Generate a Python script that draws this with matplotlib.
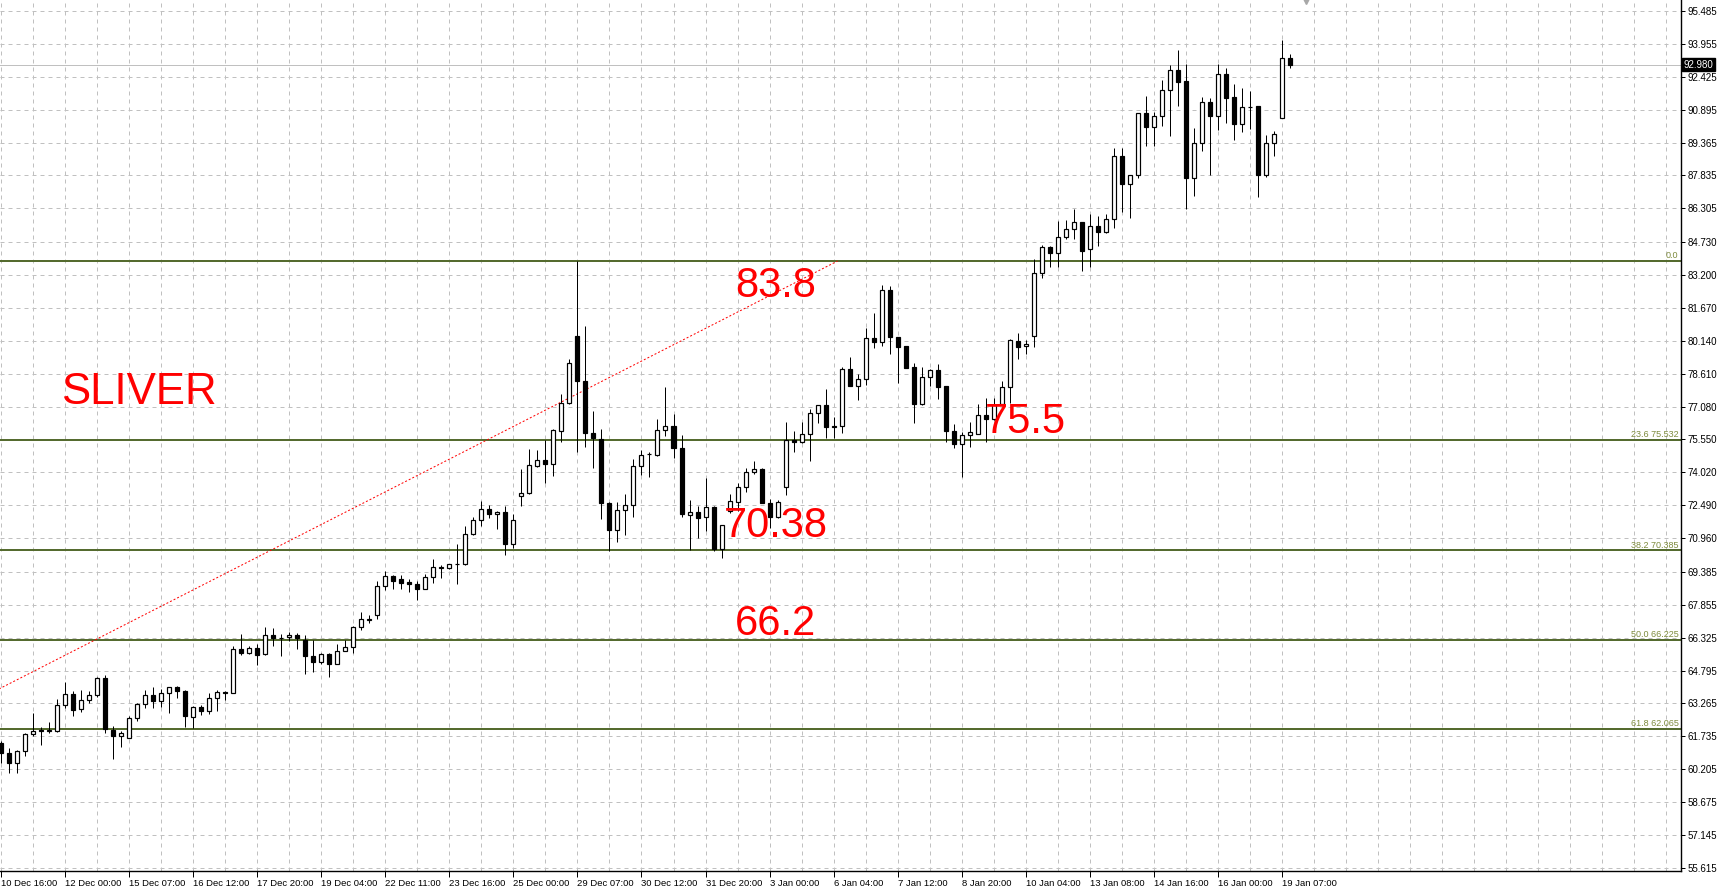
import numpy as np
import matplotlib
matplotlib.use("Agg")
import matplotlib.pyplot as plt
import matplotlib.transforms as mtransforms

# H4 candles, left to right
opens = [61.42, 60.95, 60.49, 61.05, 61.84, 62.01, 61.98, 61.96, 63.19, 63.70,
         63.00, 63.42, 63.64, 64.44, 62.02, 61.77, 61.65, 62.58, 63.23, 63.65,
         63.37, 63.75, 64.02, 63.85, 62.63, 63.09, 62.89, 63.51, 63.81, 63.75,
         65.79, 65.61, 65.85, 65.56, 66.44, 66.30, 66.35, 66.46, 66.22, 65.48,
         65.17, 65.57, 65.12, 65.70, 65.88, 66.83, 67.15, 67.36, 68.72, 69.19,
         69.06, 68.92, 68.81, 68.57, 69.14, 69.56, 69.56, 69.73, 69.73, 71.14,
         71.79, 72.30, 72.07, 72.18, 70.68, 72.91, 73.07, 74.32, 74.60, 74.42,
         75.94, 77.25, 80.37, 78.29, 75.84, 75.55, 72.60, 71.33, 72.27, 72.51,
         74.32, 74.85, 74.83, 76.00, 76.18, 75.16, 72.04, 72.17, 71.94, 72.40,
         70.43, 72.23, 72.65, 73.32, 74.02, 74.19, 72.61, 71.95, 73.32, 75.54,
         75.45, 75.79, 76.76, 77.14, 76.17, 76.19, 78.81, 78.05, 78.35, 80.25,
         80.07, 82.49, 80.30, 79.90, 78.92, 77.18, 78.44, 78.76, 78.02, 75.93,
         75.32, 75.74, 75.82, 76.67, 76.48, 77.18, 77.99, 80.14, 79.88, 80.35,
         83.28, 84.49, 84.21, 84.95, 85.33, 85.65, 84.40, 85.47, 85.22, 85.79,
         88.72, 87.45, 87.84, 90.72, 90.10, 90.58, 91.79, 92.72, 92.21, 87.73,
         89.33, 91.25, 90.62, 92.54, 91.47, 90.21, 91.00, 91.05, 87.87, 89.36,
         90.52, 93.28]
highs = [61.53, 61.20, 61.08, 61.90, 62.81, 62.16, 62.41, 63.48, 64.27, 63.82,
         63.88, 63.85, 64.50, 64.60, 62.21, 61.96, 62.69, 63.28, 63.90, 64.04,
         63.93, 64.04, 64.09, 63.88, 63.14, 63.20, 63.73, 63.88, 63.85, 65.93,
         66.49, 65.96, 66.04, 66.83, 66.77, 66.49, 66.58, 66.52, 66.44, 66.22,
         65.63, 65.60, 66.04, 66.21, 66.88, 67.50, 67.36, 68.97, 69.43, 69.22,
         69.25, 69.05, 68.97, 69.30, 69.99, 69.70, 69.76, 70.69, 71.53, 71.93,
         72.68, 72.51, 72.23, 72.46, 72.09, 74.18, 75.11, 75.07, 75.53, 76.04,
         77.64, 79.27, 83.85, 80.81, 76.88, 76.04, 72.62, 72.62, 73.02, 74.62,
         75.07, 74.96, 76.48, 78.01, 76.71, 75.76, 72.71, 72.46, 73.74, 72.45,
         71.58, 73.00, 73.51, 74.20, 74.56, 74.22, 72.76, 72.73, 76.34, 75.94,
         76.34, 76.96, 77.17, 77.88, 76.61, 78.94, 79.37, 78.58, 80.73, 81.45,
         82.74, 82.69, 80.33, 79.91, 79.09, 78.90, 78.84, 79.04, 78.04, 76.27,
         75.91, 76.38, 77.18, 77.46, 77.46, 78.27, 80.21, 80.50, 80.18, 83.96,
         84.60, 84.55, 85.73, 85.76, 86.27, 85.68, 86.04, 85.95, 86.04, 89.11,
         89.11, 87.87, 90.75, 91.53, 90.77, 92.27, 92.99, 93.67, 93.00, 90.03,
         91.48, 91.42, 93.02, 92.82, 92.09, 91.90, 91.76, 91.07, 89.70, 89.90,
         94.14, 93.48]
lows = [60.49, 60.01, 60.01, 60.84, 61.73, 61.34, 61.88, 61.93, 63.03, 62.66,
        62.85, 63.28, 63.56, 61.87, 60.70, 61.26, 61.65, 62.43, 63.03, 63.03,
        63.12, 62.81, 63.51, 62.15, 62.10, 62.71, 62.77, 62.89, 63.43, 63.75,
        65.54, 65.56, 65.03, 65.51, 65.92, 65.45, 66.18, 65.78, 64.63, 64.75,
        65.12, 64.49, 65.09, 65.70, 65.63, 66.66, 67.00, 67.17, 68.52, 68.57,
        68.61, 68.43, 68.10, 68.57, 68.89, 69.08, 69.54, 68.80, 69.70, 71.09,
        71.50, 71.87, 71.36, 70.15, 70.52, 72.45, 73.02, 74.26, 73.52, 73.83,
        75.42, 77.21, 74.96, 75.18, 74.21, 71.83, 70.38, 70.77, 71.10, 71.96,
        73.90, 73.80, 74.77, 75.69, 74.69, 71.93, 70.41, 70.97, 71.30, 70.35,
        70.05, 72.11, 72.23, 73.12, 73.95, 72.58, 71.41, 71.89, 72.96, 74.96,
        75.40, 74.55, 76.30, 75.63, 75.60, 75.86, 78.04, 77.38, 78.08, 79.82,
        79.91, 79.54, 78.16, 78.86, 76.33, 77.15, 78.05, 77.45, 75.44, 75.17,
        73.82, 75.21, 75.82, 75.44, 76.45, 77.15, 77.23, 79.29, 79.54, 79.86,
        83.08, 83.59, 83.59, 84.86, 84.88, 83.40, 83.59, 84.56, 85.17, 85.40,
        86.15, 85.87, 87.70, 89.22, 89.22, 90.15, 89.68, 91.08, 86.26, 86.89,
        88.99, 87.84, 89.96, 90.26, 89.50, 89.87, 89.99, 86.85, 87.78, 88.75,
        90.49, 92.82]
closes = [60.94, 60.47, 61.05, 61.84, 61.99, 61.98, 62.02, 63.19, 63.70, 62.98,
          63.42, 63.65, 64.44, 62.07, 61.77, 61.88, 62.58, 63.23, 63.65, 63.36,
          63.75, 64.02, 63.82, 62.66, 63.09, 62.89, 63.51, 63.81, 63.76, 65.79,
          65.59, 65.85, 65.54, 66.44, 66.29, 66.29, 66.46, 66.29, 65.45, 65.17,
          65.57, 65.09, 65.70, 65.90, 66.83, 67.19, 67.20, 68.72, 69.19, 68.98,
          68.89, 68.80, 68.57, 69.14, 69.61, 69.61, 69.74, 69.76, 71.16, 71.79,
          72.30, 72.06, 72.16, 70.68, 71.79, 73.07, 74.37, 74.60, 74.42, 76.00,
          77.25, 79.12, 78.26, 75.84, 75.63, 72.59, 71.33, 72.27, 72.51, 74.32,
          74.83, 74.88, 76.00, 76.18, 75.16, 72.09, 72.17, 71.90, 72.40, 70.43,
          71.55, 72.68, 73.32, 74.02, 74.19, 72.61, 71.95, 72.62, 75.52, 75.45,
          75.79, 76.76, 77.14, 76.11, 76.11, 78.81, 78.05, 78.35, 80.25, 80.07,
          82.49, 80.30, 79.86, 78.89, 77.18, 78.44, 78.76, 78.00, 75.96, 75.32,
          75.74, 75.88, 76.67, 76.48, 77.15, 77.99, 80.18, 79.86, 79.97, 83.28,
          84.49, 84.21, 84.95, 85.33, 85.65, 84.33, 85.47, 85.22, 85.79, 88.72,
          87.45, 87.84, 90.72, 90.10, 90.58, 91.79, 92.72, 92.20, 87.73, 89.33,
          91.25, 90.58, 92.54, 91.45, 90.21, 91.00, 91.03, 87.87, 89.36, 89.78,
          93.28, 92.98]

time_labels = ["10 Dec 16:00", "12 Dec 00:00", "15 Dec 07:00", "16 Dec 12:00",
               "17 Dec 20:00", "19 Dec 04:00", "22 Dec 11:00", "23 Dec 16:00",
               "25 Dec 00:00", "29 Dec 07:00", "30 Dec 12:00", "31 Dec 20:00",
               "3 Jan 00:00", "6 Jan 04:00", "7 Jan 12:00", "8 Jan 20:00",
               "10 Jan 04:00", "13 Jan 08:00", "14 Jan 16:00", "16 Jan 00:00",
               "19 Jan 07:00"]
price_ticks = [95.485, 93.955, 92.425, 90.895, 89.365, 87.835, 86.305, 84.730,
               83.200, 81.670, 80.140, 78.610, 77.080, 75.550, 74.020, 72.490,
               70.960, 69.385, 67.855, 66.325, 64.795, 63.265, 61.735, 60.205,
               58.675, 57.145, 55.615]

# fibonacci retracement
fib_high = 83.85
fib_low = 48.60
fib_pcts = [0.0, 23.6, 38.2, 50.0, 61.8]
fib_labels = ["0.0", "23.6 75.532", "38.2 70.385", "50.0 66.225", "61.8 62.065"]
fib_start_bar = -81
fib_end_bar = 104.5
last_price = 92.98

fib_color = "#556b2f"
fib_text_color = "#7d8a3c"
PX = 0.72  # one pixel in points at dpi 100

fig = plt.figure(figsize=(17.24, 8.90), dpi=100)
ax = fig.add_axes([0, 19 / 890, 1681 / 1724, 871 / 890])

x = np.arange(len(opens))
o = np.array(opens)
c = np.array(closes)
up = c >= o

# grid
for t in price_ticks:
    ax.axhline(t, color="#c0c0c0", lw=PX, ls=(0, (4, 4)), zorder=0)
for gx in range(0, 212, 4):
    ax.axvline(gx, color="#c0c0c0", lw=PX, ls=(0, (4, 4)), zorder=0)

# bid line
ax.axhline(last_price, color="#c0c0c0", lw=PX, zorder=1)

# fibo levels
fib_range = fib_high - fib_low
ytrans = mtransforms.blended_transform_factory(ax.transAxes, ax.transData)
for p, lab in zip(fib_pcts, fib_labels):
    lvl = fib_high - fib_range * p / 100
    ax.axhline(lvl, color=fib_color, lw=2 * PX, zorder=2)
    ax.text(0.9985, lvl + 0.04, lab, transform=ytrans, family="Liberation Sans",
            ha="right", va="bottom", fontsize=6.5, color=fib_text_color, zorder=3)
ax.plot([fib_start_bar, fib_end_bar], [fib_low, fib_high], color="red", lw=PX,
        ls=(0, (2, 2)), zorder=2)

# candles
ax.vlines(x, lows, highs, color="black", lw=PX, zorder=4)
body_lo = np.minimum(o, c)
body_h = np.abs(c - o)
ax.bar(x[up], body_h[up], bottom=body_lo[up], width=0.5, color="white",
       edgecolor="black", lw=PX * 1.2, zorder=5)
ax.bar(x[~up], body_h[~up], bottom=body_lo[~up], width=0.5, color="black",
       edgecolor="black", lw=PX * 1.2, zorder=5)

# labels
txt = dict(color="red", family="Liberation Sans", ha="left", va="baseline", zorder=6)
ax.text(7.5, 77.2, "SLIVER", fontsize=31.5, **txt)
ax.text(91.7, 82.19, "83.8", fontsize=30, **txt)
ax.text(122.9, 75.83, "75.5", fontsize=30, **txt)
ax.text(90.3, 71.02, "70.38", fontsize=30, **txt)
ax.text(91.7, 66.43, "66.2", fontsize=30, **txt)

ax.set_xlim(-0.1625, 209.9)
ax.set_ylim(55.467, 95.997)

ax.spines["top"].set_visible(False)
ax.spines["left"].set_visible(False)
ax.spines["right"].set_color("black")
ax.spines["bottom"].set_color("black")
ax.spines["right"].set_linewidth(1.4 * PX)
ax.spines["bottom"].set_linewidth(1.4 * PX)

ax.yaxis.tick_right()
ax.set_yticks(price_ticks)
ax.set_yticklabels([f"{t:.3f}" for t in price_ticks], family="Liberation Sans")
ax.tick_params(axis="y", direction="out", length=3, width=PX, labelsize=7, pad=2,
               colors="black")

ax.set_xticks(np.arange(0, 161, 8))
ax.set_xticklabels(time_labels, ha="left", family="Liberation Sans")
ax.tick_params(axis="x", direction="out", length=4, width=PX, labelsize=6.8, pad=2,
               colors="black")

# current price box
ax.text(1.0015, last_price, f"{last_price:.3f}", transform=ytrans,
        family="Liberation Sans", ha="left", va="center", fontsize=7, color="white",
        zorder=7, bbox=dict(boxstyle="square,pad=0.15", fc="black", ec="black"))

# shift marker at the top
ax.plot([163], [1.0], marker="v", color="#a8a8a8", markersize=6, clip_on=False,
        transform=mtransforms.blended_transform_factory(ax.transData, ax.transAxes))

fig.savefig("out.png", dpi=100, facecolor="white")
